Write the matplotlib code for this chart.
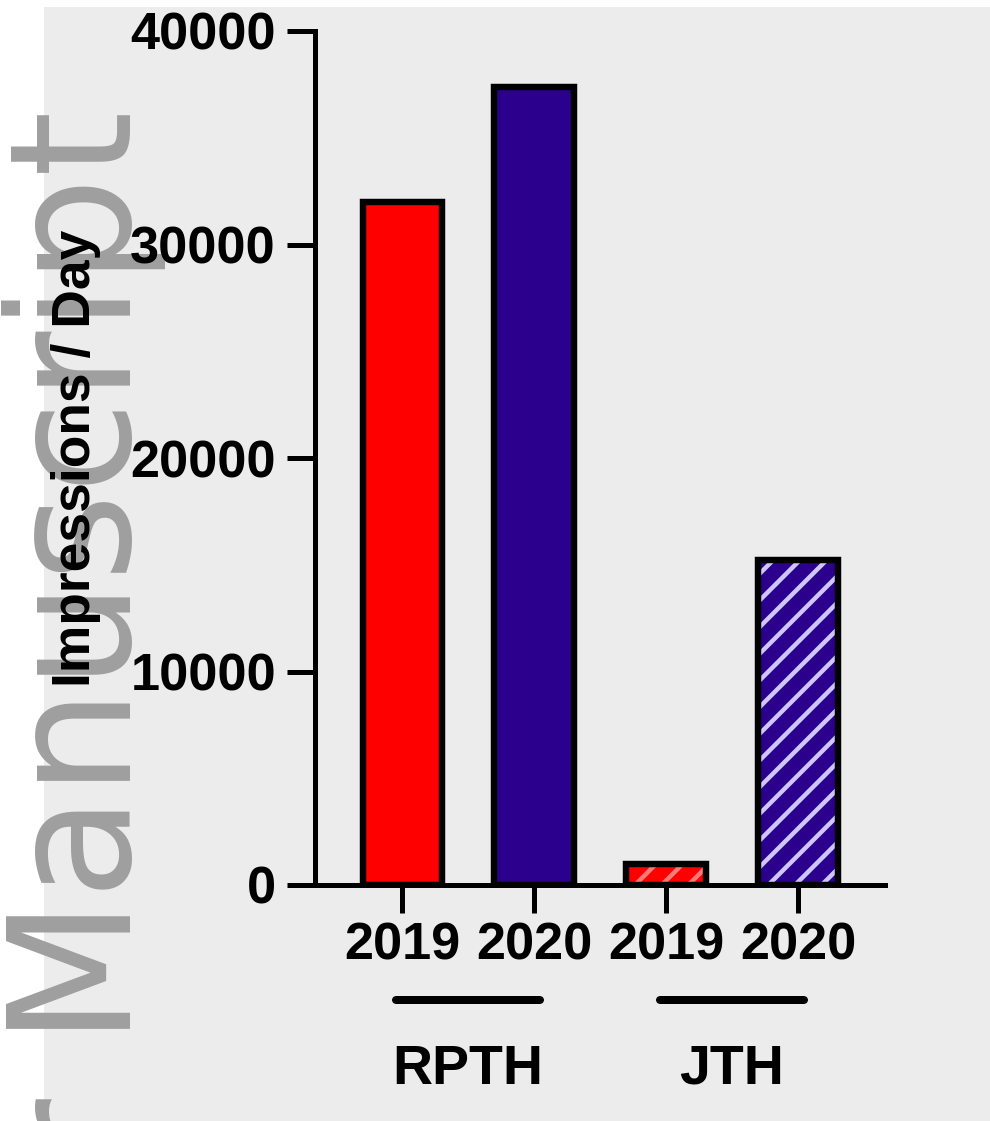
import numpy as np
import matplotlib
matplotlib.use("Agg")
import matplotlib.pyplot as plt
from matplotlib.patches import Rectangle

# data
groups = ["RPTH", "JTH"]
years = ["2019", "2020", "2019", "2020"]
impressions = [32000, 37400, 1000, 15200]
bar_colors = ["#ff0000", "#2a008c", "#ff0000", "#2a008c"]
hatches = ["", "", "//", "//"]
hatch_colors = ["#ff0000", "#2a008c", "#ff7a7a", "#cfc6ff"]
yticks = [0, 10000, 20000, 30000, 40000]

plt.rcParams['font.family'] = ['Liberation Sans', 'DejaVu Sans']
plt.rcParams['font.weight'] = 'bold'
plt.rcParams['hatch.linewidth'] = 2.0

DPI = 160
W, H = 990, 1121
fig = plt.figure(figsize=(W / DPI, H / DPI), dpi=DPI, facecolor='white')

# grey panel behind everything
fig.add_artist(Rectangle((44 / W, 0), 1 - 44 / W, 1 - 7 / H, transform=fig.transFigure,
                         facecolor='#ececec', edgecolor='none', zorder=0))

# watermark
fig.text(131 / W, 1 - 110 / H, "Author Manuscript", rotation=90, rotation_mode='anchor',
         ha='right', va='baseline', fontsize=76, fontweight='normal',
         family='DejaVu Sans', color='#9f9f9f', zorder=0.5)

ax = fig.add_axes([315 / W, (H - 885) / H, 570 / W, 854 / H])
ax.set_zorder(2)
ax.patch.set_alpha(0)

x = np.arange(len(impressions))
bars = ax.bar(x, impressions, width=0.6, color=bar_colors, linewidth=0)
for b, h, hc in zip(bars, hatches, hatch_colors):
    b.set_hatch(h)
    b.set_edgecolor(hc)
ax.bar(x, impressions, width=0.6, fill=False, edgecolor='black', linewidth=2.9)

ax.set_xlim(-0.66, 3.66)
ax.set_ylim(0, 40000)
ax.set_yticks(yticks)
ax.set_yticklabels([str(t) for t in yticks])
ax.set_xticks(x)
ax.set_xticklabels(years)

for s in ['top', 'right']:
    ax.spines[s].set_visible(False)
for s in ['left', 'bottom']:
    ax.spines[s].set_linewidth(2.25)

ax.tick_params(axis='both', length=12.6, width=2.25, labelsize=23.5)
ax.tick_params(axis='y', pad=5.0)
ax.tick_params(axis='x', pad=4.0)

ax.set_ylabel("Impressions / Day", fontsize=24, fontweight='bold',
              rotation_mode='anchor', va='baseline', ha='center')
ax.yaxis.set_label_coords(-0.3947, 0.5)

# group brackets and names
trans = ax.get_xaxis_transform()
for i, g in enumerate(groups):
    x0, x1 = x[2 * i], x[2 * i + 1]
    ax.plot([x0 - 0.045, x1 + 0.045], [-0.135, -0.135], transform=trans, clip_on=False,
            color='black', lw=3.6, solid_capstyle='round')
    ax.text((x0 + x1) / 2, -0.2166, g, transform=trans, ha='center', va='center',
            fontsize=25, fontweight='bold')

fig.savefig("out.png", dpi=DPI)
